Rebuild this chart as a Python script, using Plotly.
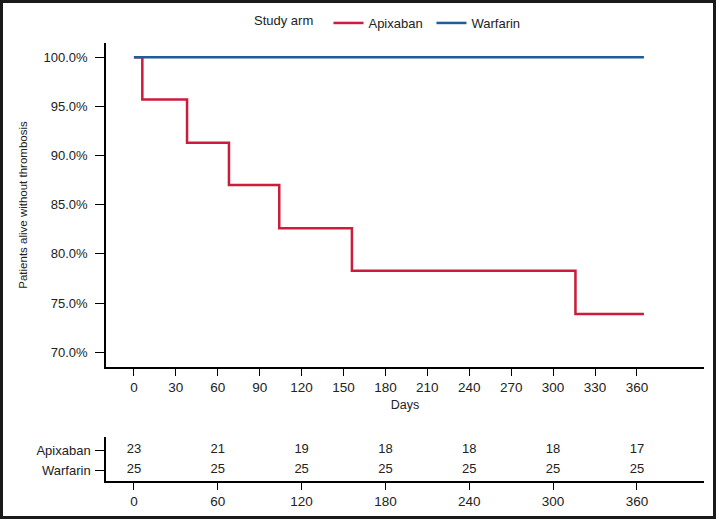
import plotly.graph_objects as go

# ---- data ----
apix_days = [0, 6, 38, 68, 104, 156, 316, 365]
apix_surv = [1.0, 0.957, 0.913, 0.870, 0.826, 0.783, 0.739, 0.739]
warf_days = [0, 365]
warf_surv = [1.0, 1.0]

y_ticks = [0.70, 0.75, 0.80, 0.85, 0.90, 0.95, 1.00]
x_ticks = [0, 30, 60, 90, 120, 150, 180, 210, 240, 270, 300, 330, 360]

risk_days = [0, 60, 120, 180, 240, 300, 360]
risk_apix = [23, 21, 19, 18, 18, 18, 17]
risk_warf = [25, 25, 25, 25, 25, 25, 25]
arms = ["Apixaban", "Warfarin"]

RED = "#CC1B3B"
BLUE = "#1F5D99"
W, H = 716, 519
FONT = "Liberation Sans, Arial, sans-serif"


def px_x(p):
    return p / W


def px_y(p):
    return 1 - p / H


fig = go.Figure()
fig.add_trace(go.Scatter(x=apix_days, y=apix_surv, mode="lines", line=dict(color=RED, width=2.5, shape="hv"),
                         name=arms[0], xaxis="x", yaxis="y"))
fig.add_trace(go.Scatter(x=warf_days, y=warf_surv, mode="lines", line=dict(color=BLUE, width=2.5, shape="hv"),
                         name=arms[1], xaxis="x", yaxis="y"))

# risk table
fig.add_trace(go.Scatter(x=risk_days, y=[arms[0]] * len(risk_days), mode="text",
                         text=[str(v) for v in risk_apix], textfont=dict(size=13, color="#222", family=FONT),
                         showlegend=False, xaxis="x2", yaxis="y2", hoverinfo="skip"))
fig.add_trace(go.Scatter(x=risk_days, y=[arms[1]] * len(risk_days), mode="text",
                         text=[str(v) for v in risk_warf], textfont=dict(size=13, color="#222", family=FONT),
                         showlegend=False, xaxis="x2", yaxis="y2", hoverinfo="skip"))

dom_x = [px_x(106), px_x(704)]
axis_common = dict(showline=True, linecolor="black", linewidth=1.5, ticks="outside", tickcolor="black",
                   tickwidth=1.3, showgrid=False, zeroline=False)

fig.update_layout(
    width=W, height=H,
    margin=dict(l=0, r=0, t=0, b=0),
    paper_bgcolor="white", plot_bgcolor="white",
    font=dict(family=FONT, color="#222"),
    xaxis=dict(domain=dom_x, range=[-20, 408], tickvals=x_ticks, ticklen=7, anchor="y",
               tickfont=dict(family=FONT, size=13.5, color="#222"),
               title=dict(text="Days", font=dict(family=FONT, size=12.5), standoff=6), **axis_common),
    yaxis=dict(domain=[px_y(367), px_y(43)], range=[0.685, 1.0145], tickvals=y_ticks, tickformat=".1%",
               ticklen=9, anchor="x", ticklabelstandoff=5,
               tickfont=dict(family=FONT, size=13, color="#222"),
               title=dict(text="Patients alive without thrombosis", font=dict(family=FONT, size=11.5), standoff=14),
               **axis_common),
    xaxis2=dict(domain=dom_x, range=[-20, 408], tickvals=risk_days, ticklen=7, anchor="y2",
                tickfont=dict(family=FONT, size=13.5, color="#222"), **axis_common),
    yaxis2=dict(domain=[px_y(481), px_y(437)], type="category", categoryorder="array",
                categoryarray=[arms[1], arms[0]], range=[-0.55, 1.65], ticklen=9, anchor="x2",
                ticklabelstandoff=2,
                tickfont=dict(family=FONT, size=13, color="#222"), **axis_common),
    legend=dict(orientation="h", x=px_x(252), xanchor="left", y=px_y(8), yanchor="top",
                title=dict(text="Study arm  ", font=dict(family=FONT, size=13)),
                font=dict(family=FONT, size=13, color="#222"), itemwidth=30,
                entrywidth=58, entrywidthmode="pixels"),
    shapes=[dict(type="rect", xref="paper", yref="paper", x0=0, x1=1, y0=0, y1=1,
                 line=dict(color="#1a1a1a", width=6))],
)

fig.write_html("out.html", config={"displayModeBar": False},
               post_script="document.body.style.margin='0px';document.body.style.padding='0px';")
